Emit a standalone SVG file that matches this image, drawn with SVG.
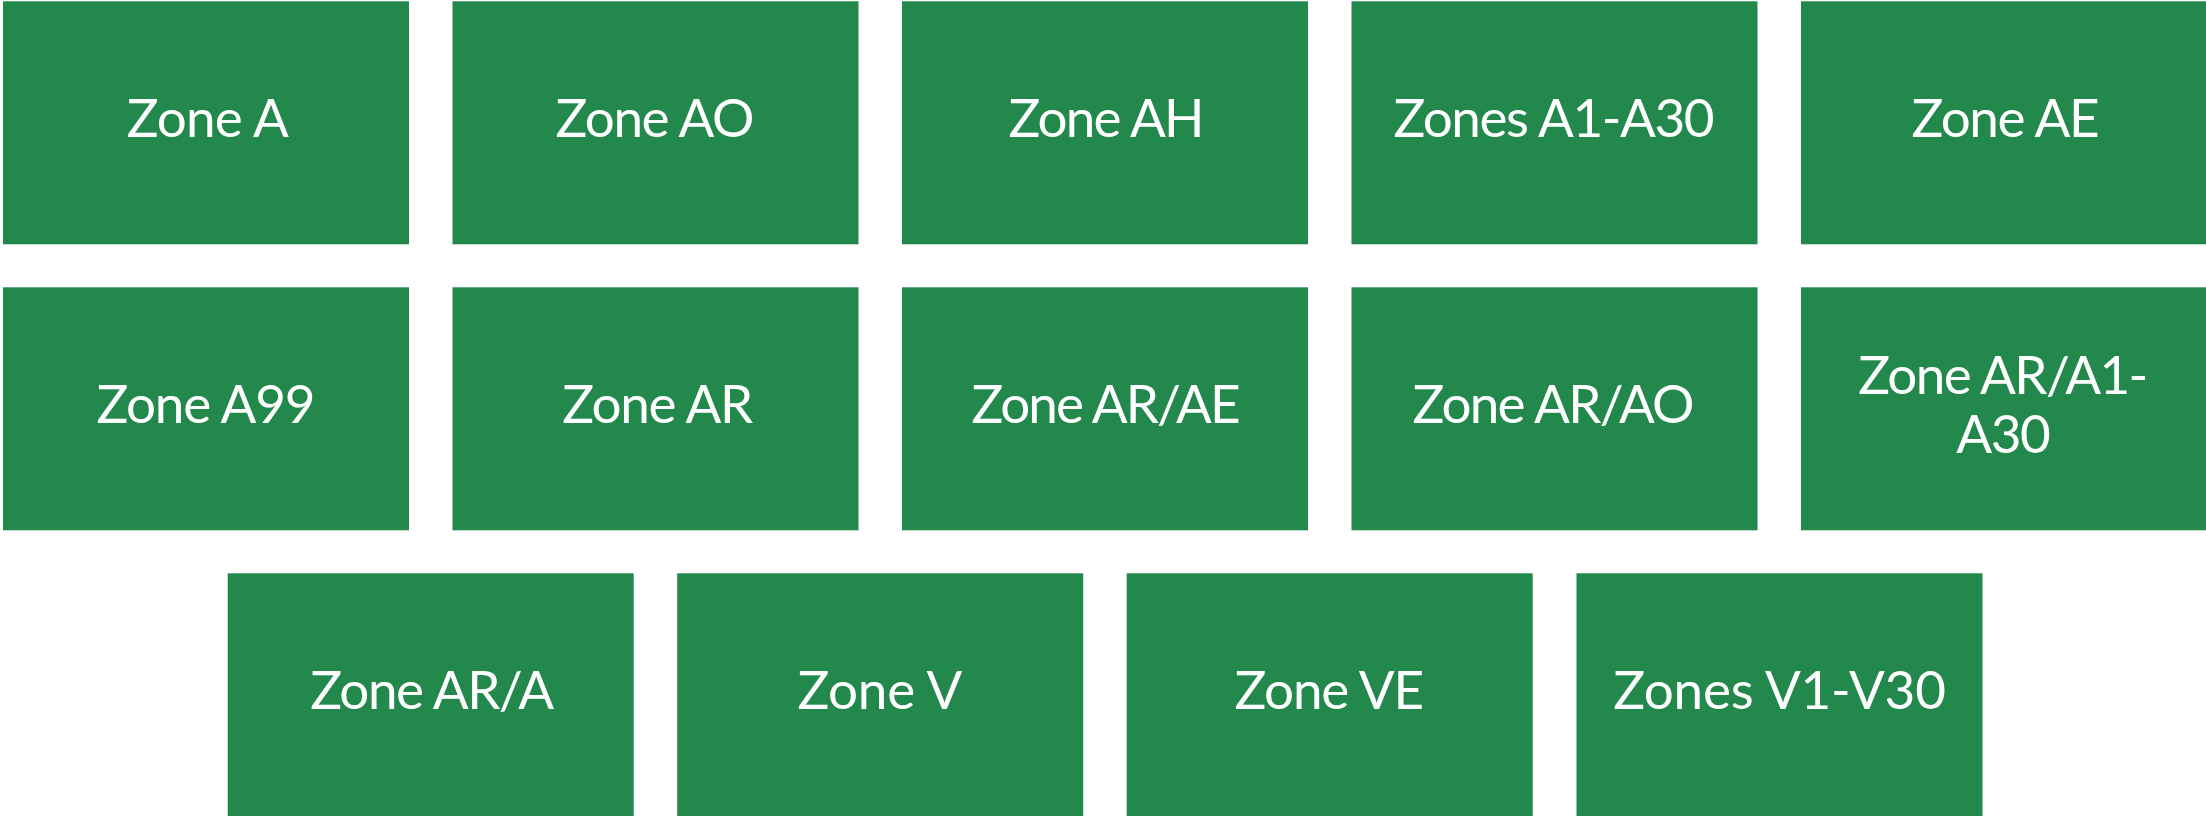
<svg xmlns="http://www.w3.org/2000/svg" width="2206" height="816" viewBox="0 0 2206 816">
<style>
.box{fill:#22884c;}
.t{font-family:Lato,"Liberation Sans",sans-serif;font-size:53px;fill:#ffffff;text-anchor:middle;}
</style>
<rect width="2206" height="816" fill="#ffffff"/>
<g id="connectors"/>
<g id="n1"><rect class="box" x="3" y="1.3" width="406" height="243"/><text class="t" x="207.8" y="137.3" textLength="162" lengthAdjust="spacing">Zone A</text></g>
<g id="n2"><rect class="box" x="452.5" y="1.3" width="406" height="243"/><text class="t" x="655" y="137.3" textLength="199" lengthAdjust="spacing">Zone AO</text></g>
<g id="n3"><rect class="box" x="902" y="1.3" width="406" height="243"/><text class="t" x="1106.5" y="137.3" textLength="196" lengthAdjust="spacing">Zone AH</text></g>
<g id="n4"><rect class="box" x="1351.5" y="1.3" width="406" height="243"/><text class="t" x="1554" y="137.3" textLength="321" lengthAdjust="spacing">Zones A1-A30</text></g>
<g id="n5"><rect class="box" x="1801" y="1.3" width="406" height="243"/><text class="t" x="2005.5" y="137.3" textLength="188" lengthAdjust="spacing">Zone AE</text></g>
<g id="n6"><rect class="box" x="3" y="287.3" width="406" height="243"/><text class="t" x="206" y="423.3" textLength="219" lengthAdjust="spacing">Zone A99</text></g>
<g id="n7"><rect class="box" x="452.5" y="287.3" width="406" height="243"/><text class="t" x="657.7" y="423.3" textLength="191" lengthAdjust="spacing">Zone AR</text></g>
<g id="n8"><rect class="box" x="902" y="287.3" width="406" height="243"/><text class="t" x="1106" y="423.3" textLength="269" lengthAdjust="spacing">Zone AR/AE</text></g>
<g id="n9"><rect class="box" x="1351.5" y="287.3" width="406" height="243"/><text class="t" x="1553.5" y="423.3" textLength="282" lengthAdjust="spacing">Zone AR/AO</text></g>
<g id="n10"><rect class="box" x="1801" y="287.3" width="406" height="243"/><text class="t" x="2003.3" y="394.3" textLength="290" lengthAdjust="spacing">Zone AR/A1-</text><text class="t" x="2003.5" y="452.7" textLength="94.7" lengthAdjust="spacing">A30</text></g>
<g id="n11"><rect class="box" x="227.7" y="573.3" width="406" height="243"/><text class="t" x="432.2" y="709.3" textLength="244" lengthAdjust="spacing">Zone AR/A</text></g>
<g id="n12"><rect class="box" x="677.2" y="573.3" width="406" height="243"/><text class="t" x="880" y="709.3" textLength="165" lengthAdjust="spacing">Zone V</text></g>
<g id="n13"><rect class="box" x="1126.7" y="573.3" width="406" height="243"/><text class="t" x="1329.3" y="709.3" textLength="189.7" lengthAdjust="spacing">Zone VE</text></g>
<g id="n14"><rect class="box" x="1576.5" y="573.3" width="406" height="243"/><text class="t" x="1779.6" y="709.3" textLength="332.6" lengthAdjust="spacing">Zones V1-V30</text></g>
</svg>
